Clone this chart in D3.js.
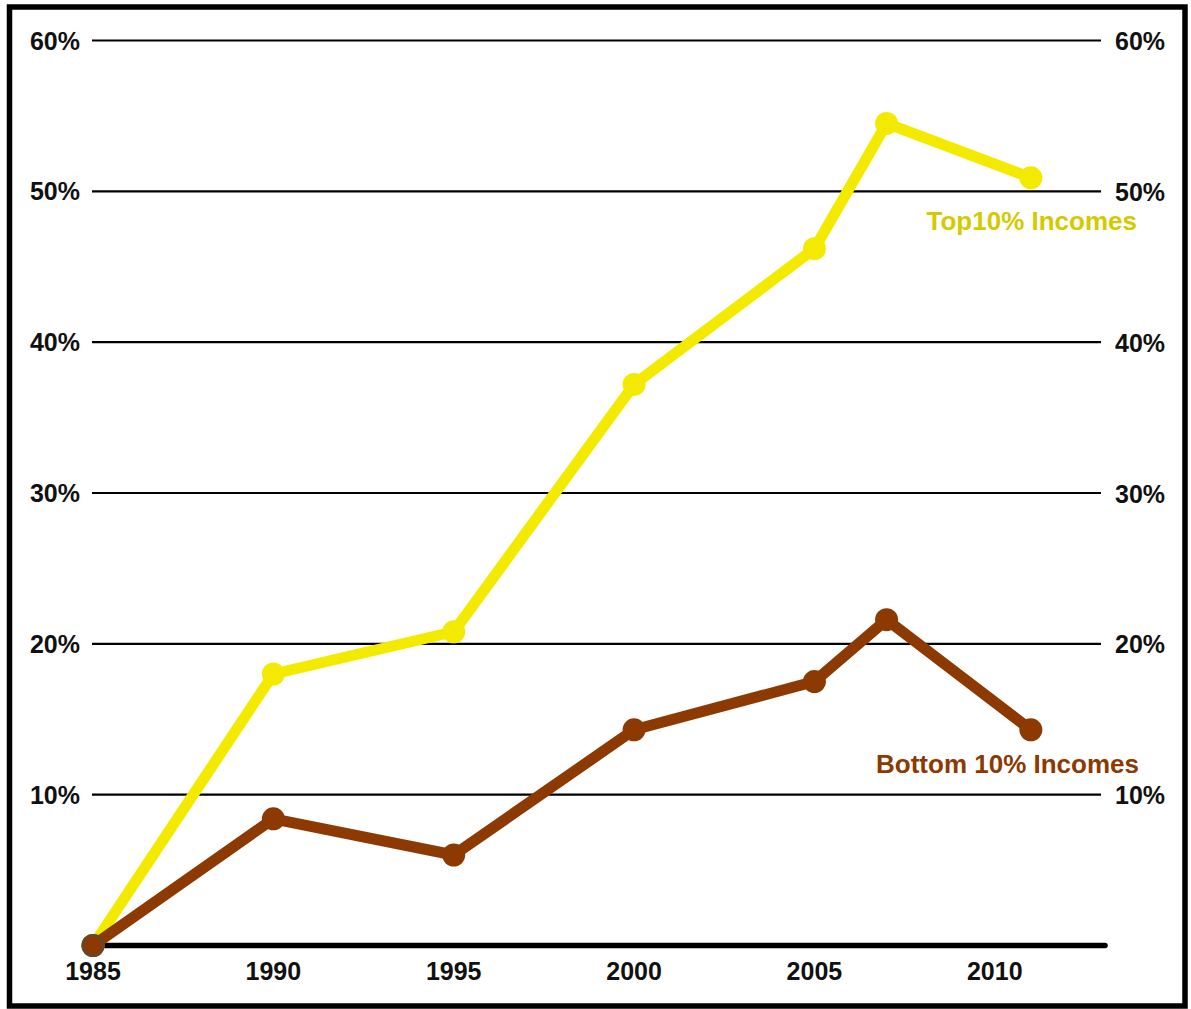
<!DOCTYPE html>
<html>
<head>
<meta charset="utf-8">
<script src="https://cdn.jsdelivr.net/npm/d3@7/dist/d3.min.js"></script>
<style>
  html, body { margin: 0; padding: 0; background: #fff; }
  svg { display: block; }
  text { font-family: "Liberation Sans", Arial, Helvetica, sans-serif; font-weight: bold; }
</style>
</head>
<body>
<svg id="chart" width="1191" height="1009"></svg>
<script>
// Income growth since 1985, top vs bottom decile
const years = [1985, 1990, 1995, 2000, 2005, 2007, 2011];
const top10 = [0, 18.0, 20.8, 37.2, 46.2, 54.5, 50.9];
const bottom10 = [0, 8.4, 6.0, 14.3, 17.5, 21.6, 14.3];
const yearTicks = [1985, 1990, 1995, 2000, 2005, 2010];
const pctTicks = [10, 20, 30, 40, 50, 60];
const seriesNames = ["Top10% Incomes", "Bottom 10% Incomes"];

const svg = d3.select("#chart");

const x = d3.scaleLinear().domain([1985, 2013]).range([93, 1103]);
const y = d3.scaleLinear().domain([0, 60]).range([945.5, 40.5]);

// outer frame
svg.append("rect")
  .attr("x", 9.5).attr("y", 7)
  .attr("width", 1175.5).attr("height", 999)
  .attr("fill", "none").attr("stroke", "#000").attr("stroke-width", 5.5);

// horizontal gridlines
svg.append("g").selectAll("line").data(pctTicks).join("line")
  .attr("x1", x(1985) - 1).attr("x2", x(2013) - 2)
  .attr("y1", d => y(d)).attr("y2", d => y(d))
  .attr("stroke", "#000").attr("stroke-width", 2.2);

// baseline
svg.append("line")
  .attr("x1", x(1985)).attr("x2", x(2013) + 2)
  .attr("y1", y(0)).attr("y2", y(0))
  .attr("stroke", "#000").attr("stroke-width", 5.5)
  .attr("stroke-linecap", "round");

const fmt = d => d + "%";

// left and right percentage labels
svg.append("g").selectAll("text").data(pctTicks).join("text")
  .attr("x", 80).attr("y", d => y(d)).attr("dy", "0.36em")
  .attr("text-anchor", "end").attr("font-size", 25).attr("fill", "#111")
  .text(fmt);
svg.append("g").selectAll("text").data(pctTicks).join("text")
  .attr("x", 1115).attr("y", d => y(d)).attr("dy", "0.38em")
  .attr("text-anchor", "start").attr("font-size", 25).attr("fill", "#111")
  .text(fmt);

// year labels
svg.append("g").selectAll("text").data(yearTicks).join("text")
  .attr("x", d => x(d)).attr("y", 980)
  .attr("text-anchor", "middle").attr("font-size", 25).attr("fill", "#111")
  .text(d => d);

const line = d3.line().x(d => x(d[0])).y(d => y(d[1]));

function drawSeries(values, color) {
  const pts = years.map((yr, i) => [yr, values[i]]);
  svg.append("path")
    .attr("d", line(pts))
    .attr("fill", "none").attr("stroke", color)
    .attr("stroke-width", 11).attr("stroke-linejoin", "round");
  svg.append("g").selectAll("circle").data(pts).join("circle")
    .attr("cx", d => x(d[0])).attr("cy", d => y(d[1]))
    .attr("r", 11.5).attr("fill", color);
}

drawSeries(top10, "#f3ea00");
drawSeries(bottom10, "#8c3a02");

// origin marker outline
svg.append("circle")
  .attr("cx", x(1985)).attr("cy", y(0)).attr("r", 10.5)
  .attr("fill", "none").attr("stroke", "#5a4a3c").attr("stroke-width", 2);

// series labels
svg.append("text")
  .attr("x", 1137).attr("y", 230)
  .attr("text-anchor", "end").attr("font-size", 26).attr("fill", "#d4ca00")
  .text(seriesNames[0]);
svg.append("text")
  .attr("x", 1139).attr("y", 773)
  .attr("text-anchor", "end").attr("font-size", 26).attr("fill", "#8c3a02")
  .text(seriesNames[1]);
</script>
</body>
</html>
